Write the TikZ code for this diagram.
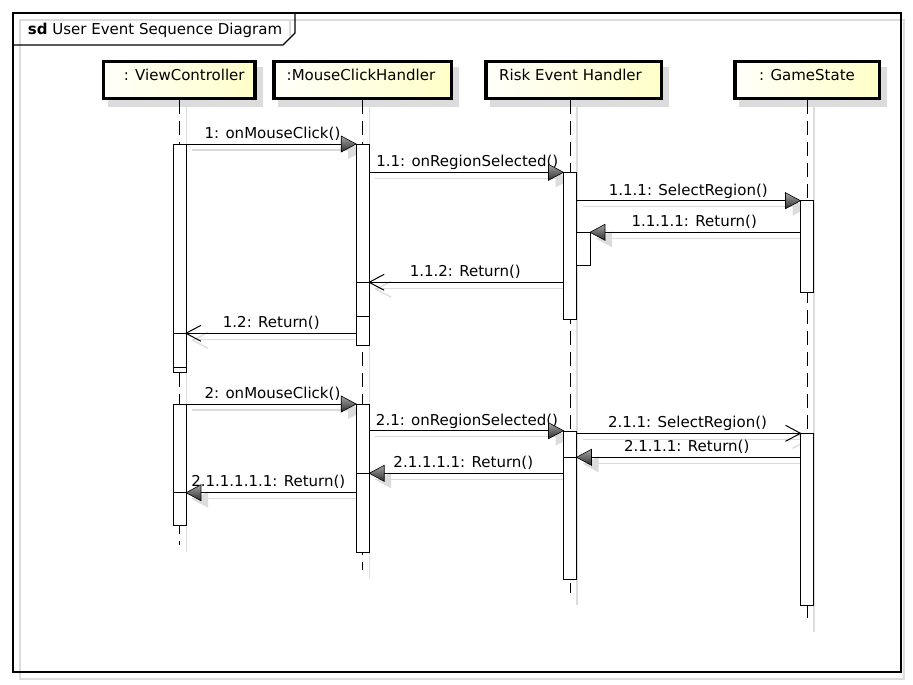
\documentclass[tikz,border=0pt]{standalone}
\usepackage{fontspec}
\setmainfont{DejaVu Sans}
\usetikzlibrary{calc}
\definecolor{shadowc}{RGB}{220,220,220}
\definecolor{headL}{RGB}{255,255,250}
\definecolor{headR}{RGB}{255,255,200}
\definecolor{tipT}{RGB}{165,165,165}
\definecolor{tipB}{RGB}{45,45,45}
\pgfdeclarelayer{bglayer}
\pgfdeclarelayer{shadowlayer}
\pgfsetlayers{bglayer,shadowlayer,main}
\tikzset{
  head/.style={draw, line width=3.5pt, left color=headL, right color=headR,
    minimum height=36.5pt, inner sep=0pt, text height=11pt, text depth=9pt},
  lifeline/.style={line width=1pt, dash pattern=on 14pt off 7pt},
  llshadow/.style={draw=shadowc, line width=1.3pt},
  actbox/.style={draw, fill=white, line width=1pt},
  msg/.style={line width=1pt},
  msgsh/.style={draw=shadowc, line width=1.3pt},
  lbl/.style={anchor=base, inner sep=0pt},
  rtip/.pic={\shade[top color=tipT, bottom color=tipB, draw=black, line width=0.6pt]
      (0,0) -- (-15,-8) -- (-15,8) -- cycle;},
  rtipsh/.pic={\fill[shadowc] (7,7) -- (-8,-1) -- (-8,15) -- cycle;},
  ltip/.pic={\shade[top color=tipT, bottom color=tipB, draw=black, line width=0.6pt]
      (0,0) -- (15,-8) -- (15,8) -- cycle;},
  ltipsh/.pic={\fill[shadowc] (7,7) -- (22,-1) -- (22,15) -- cycle;},
  rotip/.pic={\draw[line width=1pt] (-15,-8) -- (0,0) -- (-15,8);},
  rotipsh/.pic={\draw[shadowc, line width=1.3pt] (-8,-1) -- (7,7) -- (-8,15);},
  lotip/.pic={\draw[line width=1pt] (15,-8) -- (0,0) -- (15,8);},
  lotipsh/.pic={\draw[shadowc, line width=1.3pt] (22,-1) -- (7,7) -- (22,15);},
}
\newcommand{\msgline}[3]{%
  \begin{pgfonlayer}{shadowlayer}
    \draw[msgsh] ([shift={(6,6)}]#1) -- ([shift={(6,6)}]#2);
    \pic at (#2) {#3sh};
  \end{pgfonlayer}
  \draw[msg] (#1) -- (#2);
  \pic at (#2) {#3};
}
\begin{document}
\begin{tikzpicture}[x=1pt, y=-1pt, font=\fontsize{15}{18}\selectfont]
\useasboundingbox (0,0) rectangle (913,685);
\begin{pgfonlayer}{bglayer}
  \fill[white] (0,0) rectangle (913,685);
\end{pgfonlayer}

% frame
\begin{pgfonlayer}{shadowlayer}
  \draw[shadowc, line width=1.5pt] (20,20) rectangle (904,679);
  \draw[shadowc, line width=1.3pt] (290,20) -- (290,36);
\end{pgfonlayer}
\draw[line width=1.8pt] (13,13) rectangle (901,672);
\draw[line width=1.2pt] (13,45) -- (283,45) -- (295,33) -- (295,13);
\node[anchor=base west, inner sep=0pt] (title) at (27.7,35) {\textbf{sd} User Event Sequence Diagram};

% lifelines
\coordinate (vcA) at (179.5,100);  \coordinate (vcB) at (179.5,545);
\coordinate (mcA) at (362.7,100);  \coordinate (mcB) at (362.7,570);
\coordinate (reA) at (570,100);    \coordinate (reB) at (570,593);
\coordinate (gsA) at (807,100);    \coordinate (gsB) at (807,618);
\begin{pgfonlayer}{shadowlayer}
  \draw[llshadow] (186.5,106) -- (186.5,552);
  \draw[llshadow] (369.7,106) -- (369.7,578);
  \draw[llshadow] (577,106) -- (577,605);
  \draw[llshadow] (814,106) -- (814,632);
\end{pgfonlayer}
\draw[lifeline] (vcA) -- (vcB);
\draw[lifeline] (mcA) -- (mcB);
\draw[lifeline] (reA) -- (reB);
\draw[lifeline] (gsA) -- (gsB);

% headers
\node[head, minimum width=151.5pt] (vc) at (179.2,80) {\hspace*{10pt}: ViewController};
\node[head, minimum width=177.5pt] (mc) at (362.5,80) {:MouseClickHandler\hspace*{3pt}};
\node[head, minimum width=175.5pt] (re) at (573.5,80) {Risk Event Handler\hspace*{6pt}};
\node[head, minimum width=144.5pt] (gs) at (807,80) {: GameState};
\begin{pgfonlayer}{shadowlayer}
  \foreach \n in {vc,mc,re,gs}
    \fill[shadowc] ([shift={(6,7)}]\n.south west) rectangle ([shift={(6,7)}]\n.north east);
\end{pgfonlayer}

% activation boxes, round 1
\draw[actbox] (173,144) rectangle (186,372);
\draw[line width=1pt] (173,333.3) -- (186,333.3) (173,367) -- (186,367);
\draw[actbox] (356.2,144) rectangle (369.2,345.3);
\draw[line width=1pt] (356.2,282.3) -- (369.2,282.3) (356.2,316.7) -- (369.2,316.7);
\draw[actbox] (563.5,172.3) rectangle (576.5,319);
\draw[actbox] (576.5,232.3) rectangle (590,265);
\draw[actbox] (800.5,200.7) rectangle (813.5,292);
% activation boxes, round 2
\draw[actbox] (173,404) rectangle (186,525.3);
\draw[line width=1pt] (173,492.7) -- (186,492.7);
\draw[actbox] (356.2,404) rectangle (369.2,552.3);
\draw[line width=1pt] (356.2,473.3) -- (369.2,473.3);
\draw[actbox] (563.5,431.7) rectangle (576.5,579.3);
\draw[line width=1pt] (563.5,457.3) -- (576.5,457.3);
\draw[actbox] (800.5,433.3) rectangle (813.5,605.3);

% message end points
\coordinate (m1s) at (186,144);       \coordinate (m1e) at (356.2,144);
\coordinate (m11s) at (369.2,172.3);  \coordinate (m11e) at (563.5,172.3);
\coordinate (m111s) at (576.5,200.7); \coordinate (m111e) at (800.5,200.7);
\coordinate (m1111s) at (800.5,232.3);\coordinate (m1111e) at (590,232.3);
\coordinate (m112s) at (563.5,282.3); \coordinate (m112e) at (369.2,282.3);
\coordinate (m12s) at (356.2,333.3);  \coordinate (m12e) at (186,333.3);
\coordinate (m2s) at (186,404);       \coordinate (m2e) at (356.2,404);
\coordinate (m21s) at (369.2,430.7);  \coordinate (m21e) at (563.5,430.7);
\coordinate (m211s) at (576.5,433.3); \coordinate (m211e) at (800.5,433.3);
\coordinate (m2111s) at (800.5,457.3);\coordinate (m2111e) at (576.5,457.3);
\coordinate (m21111s) at (563.5,473.3);\coordinate (m21111e) at (369.2,473.3);
\coordinate (m211111s) at (356.2,492.7);\coordinate (m211111e) at (186,492.7);

% labels
\node[lbl] (l1) at (272.5,138.5) {1: onMouseClick()};
\node[lbl] (l11) at (467.3,166.8) {1.1: onRegionSelected()};
\node[lbl] (l111) at (688.3,195.2) {1.1.1: SelectRegion()};
\node[lbl] (l1111) at (694.2,226.8) {1.1.1.1: Return()};
\node[lbl] (l112) at (465.3,276.8) {1.1.2: Return()};
\node[lbl] (l12) at (271.3,327.8) {1.2: Return()};
\node[lbl] (l2) at (272.5,398.5) {2: onMouseClick()};
\node[lbl] (l21) at (467,425.2) {2.1: onRegionSelected()};
\node[lbl] (l211) at (687.5,427.3) {2.1.1: SelectRegion()};
\node[lbl] (l2111) at (686.7,451.7) {2.1.1.1: Return()};
\node[lbl] (l21111) at (463.3,467.7) {2.1.1.1.1: Return()};
\node[lbl] (l211111) at (268.3,486.7) {2.1.1.1.1.1: Return()};

% messages
\msgline{m1s}{m1e}{rtip}
\msgline{m11s}{m11e}{rtip}
\msgline{m111s}{m111e}{rtip}
\msgline{m1111s}{m1111e}{ltip}
\msgline{m112s}{m112e}{lotip}
\msgline{m12s}{m12e}{lotip}
\msgline{m2s}{m2e}{rtip}
\msgline{m21s}{m21e}{rtip}
\msgline{m211s}{m211e}{rotip}
\msgline{m2111s}{m2111e}{ltip}
\msgline{m21111s}{m21111e}{ltip}
\msgline{m211111s}{m211111e}{ltip}
\end{tikzpicture}
\end{document}
